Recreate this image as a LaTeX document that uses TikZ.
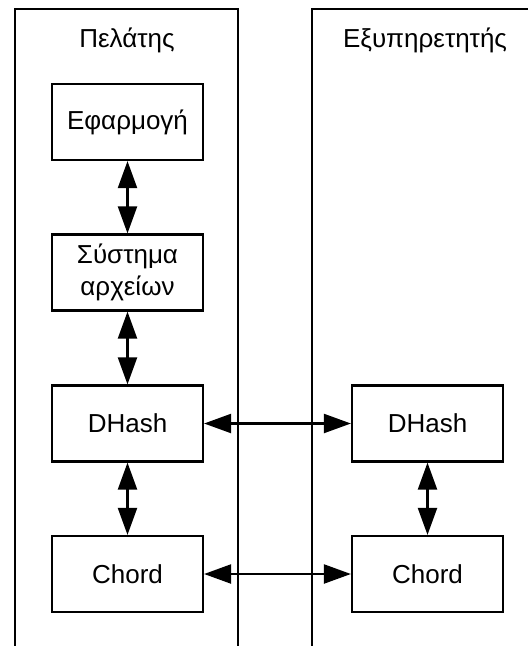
\documentclass[tikz,border=0pt]{standalone}
\usepackage{fontspec}
\setmainfont{Liberation Sans}
\usetikzlibrary{arrows.meta}
\begin{document}
\begin{tikzpicture}[x=1pt,y=-1pt,
  box/.style={draw, line width=2.2pt, minimum width=151pt, minimum height=76pt, inner sep=0pt, align=center, font=\fontsize{26}{32}\selectfont},
  lane/.style={line width=2.2pt},
  lbl/.style={font=\fontsize{26}{30}\selectfont, inner sep=0pt},
  link/.style={line width=2.2pt, {Triangle[length=27pt,width=19pt]}-{Triangle[length=27pt,width=19pt]}}
]
\useasboundingbox (0,0) rectangle (528,646);
% lanes
\draw[lane] (15,646) -- (15,9) -- (238,9) -- (238,646);
\draw[lane] (312,646) -- (312,9) -- (529,9);
\node[lbl] (lc) at (127,40) {Πελάτης};
\node[lbl] (ls) at (425,40) {Εξυπηρετητής};
% client boxes
\node[box] (app) at (127.5,122) {Εφαρμογή};
\node[box] (fs) at (127.5,272.5) {Σύστημα\\αρχείων};
\node[box] (dh1) at (127.5,423.5) {DHash};
\node[box] (ch1) at (127.5,574) {Chord};
% server boxes
\node[box] (dh2) at (427.5,423.5) {DHash};
\node[box] (ch2) at (427.5,574) {Chord};
% connectors
\draw[link] (app) -- (fs);
\draw[link] (fs) -- (dh1);
\draw[link] (dh1) -- (ch1);
\draw[link] (dh2) -- (ch2);
\draw[link] (dh1) -- (dh2);
\draw[link] (ch1) -- (ch2);
\end{tikzpicture}
\end{document}
